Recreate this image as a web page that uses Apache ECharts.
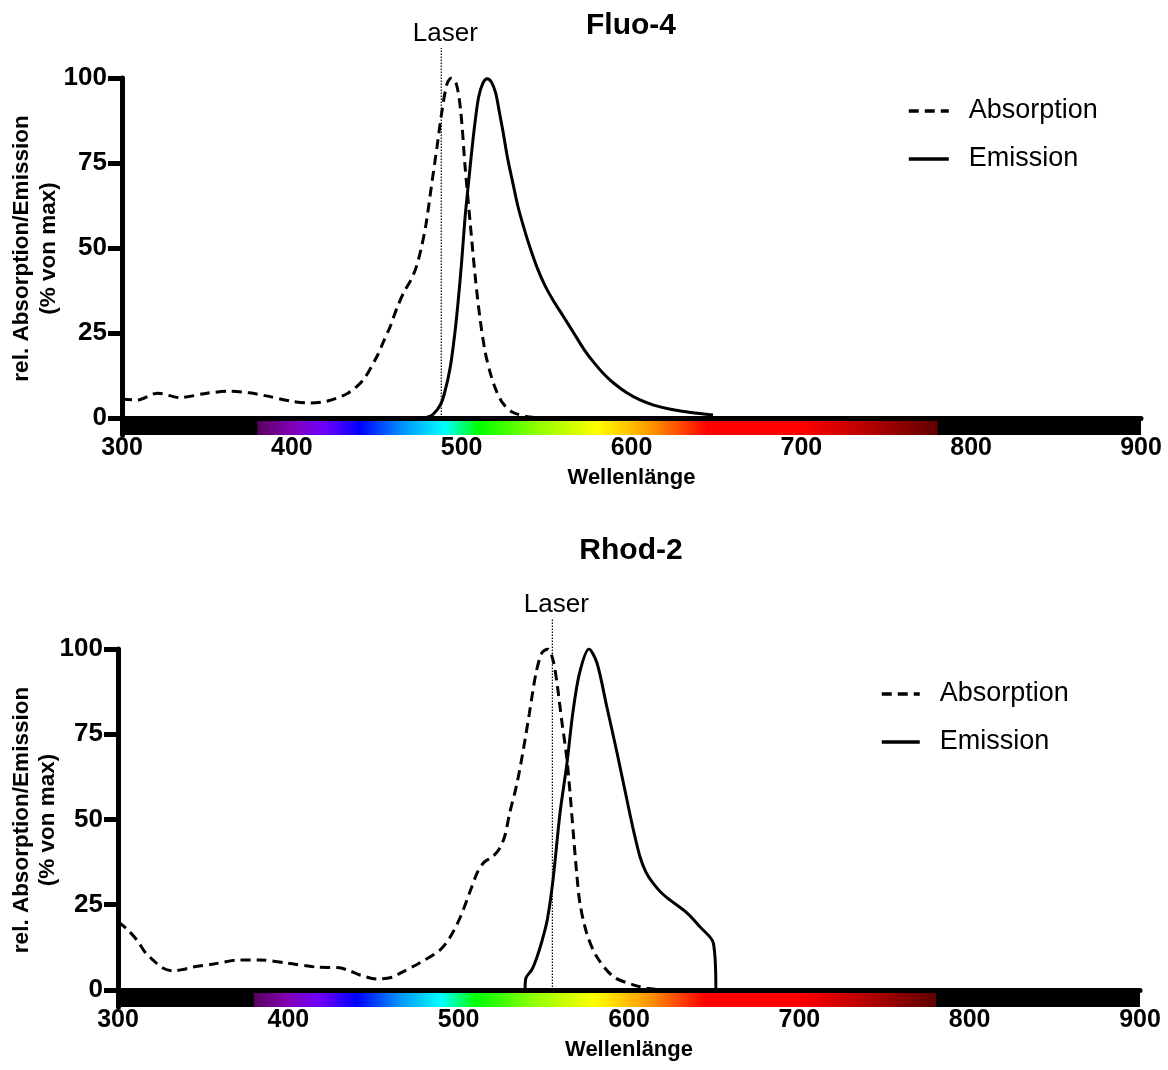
<!DOCTYPE html>
<html><head><meta charset="utf-8">
<script src="https://cdn.jsdelivr.net/npm/echarts@6.0.0/dist/echarts.min.js"></script>
<style>html,body{margin:0;padding:0;background:#fff}#chart{width:1168px;height:1070px}</style>
</head><body><div id="chart"></div>
<script>
// ---------- data ----------
const titles = ['Fluo-4', 'Rhod-2'];
const seriesNames = ['Absorption', 'Emission'];
const yAxisName = 'rel. Absorption/Emission\n(% von max)';
const xAxisName = 'Wellenlänge';
const laserText = 'Laser';
const wavelengthRange = [300, 900];
const xTickStep = 100;
const yTickValues = [0, 25, 50, 75, 100];
const spectrumBand = [-5, 0];

const fluo4AbsNm  = [300, 309, 321, 334, 350, 364, 375, 385, 399, 411, 421, 433, 442, 450, 454, 458, 462, 466, 470, 473, 476, 479, 482, 485.5, 488.5, 491.5, 494, 497, 499.5, 502, 505, 508, 511, 514, 517, 520, 524, 530, 540, 550];
const fluo4AbsPct = [5.6, 5.3, 7.3, 6.0, 7.3, 7.9, 7.4, 6.5, 5.0, 4.4, 5.0, 7.3, 11.2, 18, 22.5, 27, 32.5, 37, 40.5, 44, 49.5, 57, 67.5, 79.8, 90.6, 98.5, 100, 98, 90, 74, 57.5, 41.5, 28.5, 19, 13, 8.5, 4.5, 1.7, 0.3, 0];

const fluo4EmNm  = [478, 483, 487.4, 490, 493.3, 496, 498, 500, 502, 504, 506, 508, 510, 512.5, 515, 517.5, 520, 522, 524.5, 527, 530.4, 533, 536.3, 540, 544.6, 549, 554, 560, 566, 572, 578, 584, 589.4, 597, 605, 613, 623, 635, 648];
const fluo4EmPct = [0, 1, 3.8, 7.5, 15, 25, 34.7, 46, 59, 69, 78.8, 87.5, 94.4, 98.5, 99.8, 98.8, 95.6, 90.5, 83.8, 76.5, 68.5, 62.5, 56.5, 50.5, 44, 39, 34.5, 29.8, 25, 20.2, 16.2, 12.8, 10.3, 7.5, 5.3, 3.8, 2.6, 1.6, 0.9];

const rhod2AbsNm  = [300, 305, 311, 316, 320.5, 326, 332, 338, 344, 356, 371.6, 383, 399, 416.6, 430, 436, 442, 452, 461.5, 466, 477, 489, 495, 501, 507, 511, 515, 520, 524, 527, 530, 534, 537.6, 541.5, 545.4, 549, 552.5, 555.5, 558, 560.5, 563.4, 565.4, 567.3, 569.3, 571.2, 575.2, 581, 590.8, 602.5, 610.4, 620];
const rhod2AbsPct = [20, 18, 14.7, 11, 8.8, 6.5, 5.6, 6, 6.7, 7.6, 8.8, 8.8, 7.9, 6.7, 6.5, 5.6, 4.4, 3.2, 3.8, 5, 7.9, 11.7, 15.5, 21.4, 29.3, 34.5, 37.5, 39.1, 41.5, 45, 52, 60, 69.4, 81.1, 92.9, 99, 100, 96.5, 89, 79, 68.4, 57.7, 46, 34.2, 25.4, 16.6, 9.8, 3.9, 1.5, 0.5, 0];

const rhod2EmNm  = [539, 539.5, 543, 546, 549, 552, 555.4, 559.5, 563.6, 567, 571, 576.5, 581.2, 587, 593, 598.8, 603, 606.5, 610, 614, 619, 624, 634, 641.7, 649.5, 651];
const rhod2EmPct = [0.3, 3.5, 6, 9.7, 14.5, 20.5, 32.3, 51.9, 66.6, 81.2, 93, 100, 95.9, 83, 69.5, 55.7, 46, 39, 34.5, 31.4, 28.5, 26.4, 22.6, 18.5, 13.8, 0.3];

const laserNm = [488, 555];
const laserPct = [0, 108.8];

// visible-spectrum colour band (wavelength -> colour)
const spectrumStopNm = [300, 379.5, 380, 400, 420, 440, 465, 490, 510, 545, 580, 612, 645, 700, 740, 780, 780.5, 900];
const spectrumStopColor = ['#000000', '#000000', 'rgb(90,0,95)', 'rgb(131,0,181)', 'rgb(106,0,255)', 'rgb(0,0,255)', 'rgb(0,146,255)', 'rgb(0,255,255)', 'rgb(0,255,0)', 'rgb(146,255,0)', 'rgb(255,255,0)', 'rgb(255,148,0)', 'rgb(255,0,0)', 'rgb(255,0,0)', 'rgb(181,0,0)', 'rgb(95,0,0)', '#000000', '#000000'];

// ---------- helpers ----------
const FONT = 'Liberation Sans, Arial, Helvetica, sans-serif';
const zip = (a, b) => a.map((v, i) => [v, b[i]]);
const spectrumGradient = {
  type: 'linear', x: 0, y: 0, x2: 1, y2: 0,
  colorStops: spectrumStopNm.map((nm, i) => ({
    offset: (nm - wavelengthRange[0]) / (wavelengthRange[1] - wavelengthRange[0]),
    color: spectrumStopColor[i]
  }))
};

const grids = [
  { left: 122, right: 27, top: 78, height: 357, outerBoundsMode: 'none' },
  { left: 118, right: 28, top: 649, height: 358, outerBoundsMode: 'none' }
];
const nameGaps = [60, 56.5];
const legendPos = [{ left: 907, top: 97.5, w: 40 }, { left: 880, top: 680.5, w: 38 }];
const titleTops = [11, 536];

const xAxes = grids.map((g, i) => ({
  type: 'value', gridIndex: i, min: wavelengthRange[0], max: wavelengthRange[1], interval: xTickStep, z: 10,
  name: xAxisName, nameLocation: 'middle', nameGap: 32, nameMoveOverlap: false,
  nameTextStyle: { fontFamily: FONT, fontWeight: 'bold', fontSize: 22, color: '#000' },
  axisLine: { show: true, onZero: true, lineStyle: { color: '#000', width: 5 } },
  axisTick: { show: false }, splitLine: { show: false },
  axisLabel: { fontFamily: FONT, fontWeight: 'bold', fontSize: 25, color: '#000', margin: 1 }
}));
const yAxes = grids.map((g, i) => ({
  type: 'value', gridIndex: i, min: spectrumBand[0], max: 100, z: 10,
  name: yAxisName, nameLocation: 'middle', nameGap: nameGaps[i], nameMoveOverlap: false,
  nameTextStyle: { fontFamily: FONT, fontWeight: 'bold', fontSize: 22.5, lineHeight: 26.5, color: '#000', align: 'center', padding: [0, 0, 0, 16] },
  axisLine: { show: true, onZero: false, lineStyle: { color: '#000', width: 5 } },
  axisTick: { show: true, length: 14, customValues: yTickValues, lineStyle: { color: '#000', width: 5 } },
  splitLine: { show: false },
  axisLabel: { customValues: yTickValues, fontFamily: FONT, fontWeight: 'bold', fontSize: 26, color: '#000', margin: 15 }
}));

const dyeData = [
  { abs: zip(fluo4AbsNm, fluo4AbsPct), em: zip(fluo4EmNm, fluo4EmPct), laser: laserNm[0] },
  { abs: zip(rhod2AbsNm, rhod2AbsPct), em: zip(rhod2EmNm, rhod2EmPct), laser: laserNm[1] }
];

const series = [];
dyeData.forEach((d, i) => {
  series.push({
    name: seriesNames[0], type: 'line', xAxisIndex: i, yAxisIndex: i, data: d.abs,
    symbol: 'none', smooth: 0.3, z: 3,
    lineStyle: { color: '#000', width: 3, type: [10, 6] }, itemStyle: { color: '#000' },
    emphasis: { disabled: true },
    markArea: {
      silent: true, z: 1,
      itemStyle: { color: spectrumGradient, opacity: 1, borderWidth: 0 },
      data: [[{ coord: [wavelengthRange[0], spectrumBand[0]] }, { coord: [wavelengthRange[1], spectrumBand[1]] }]]
    }
  });
  series.push({
    name: seriesNames[1], type: 'line', xAxisIndex: i, yAxisIndex: i, data: d.em,
    symbol: 'none', smooth: 0.3, z: 3,
    lineStyle: { color: '#000', width: 3 }, itemStyle: { color: '#000' },
    emphasis: { disabled: true }
  });
  series.push({
    name: laserText, type: 'line', xAxisIndex: i, yAxisIndex: i, clip: false,
    data: [[d.laser, laserPct[0]], {
      value: [d.laser, laserPct[1]],
      label: { show: true, position: 'top', distance: 1, offset: [4, 0], formatter: laserText,
               color: '#000', fontFamily: FONT, fontSize: 26 }
    }],
    symbol: 'circle', symbolSize: 1, showSymbol: true, z: 4,
    itemStyle: { color: 'rgba(0,0,0,0)' },
    lineStyle: { color: '#000', width: 1.2, type: [1.5, 1.5] },
    emphasis: { disabled: true }
  });
});

const option = {
  animation: false,
  backgroundColor: '#fff',
  title: titles.map((t, i) => ({
    text: t, left: 631, top: titleTops[i], textAlign: 'center', padding: 0,
    textStyle: { fontFamily: FONT, fontWeight: 'bold', fontSize: 30, color: '#000' }
  })),
  legend: legendPos.map((p, i) => ({
    data: seriesNames, orient: 'vertical', left: p.left, top: p.top, padding: 0,
    itemWidth: p.w, itemHeight: 14, itemGap: 21, selectedMode: false,
    itemStyle: { color: 'rgba(0,0,0,0)', borderWidth: 0, opacity: 0 },
    lineStyle: { width: 3.5, color: '#000' },
    textStyle: { fontFamily: FONT, fontSize: 27, color: '#000', padding: [0, 0, 0, 15] }
  })),
  grid: grids,
  xAxis: xAxes,
  yAxis: yAxes,
  series: series
};

const chart = echarts.init(document.getElementById('chart'), null, { renderer: 'canvas' });
chart.setOption(option);
</script>
</body></html>
